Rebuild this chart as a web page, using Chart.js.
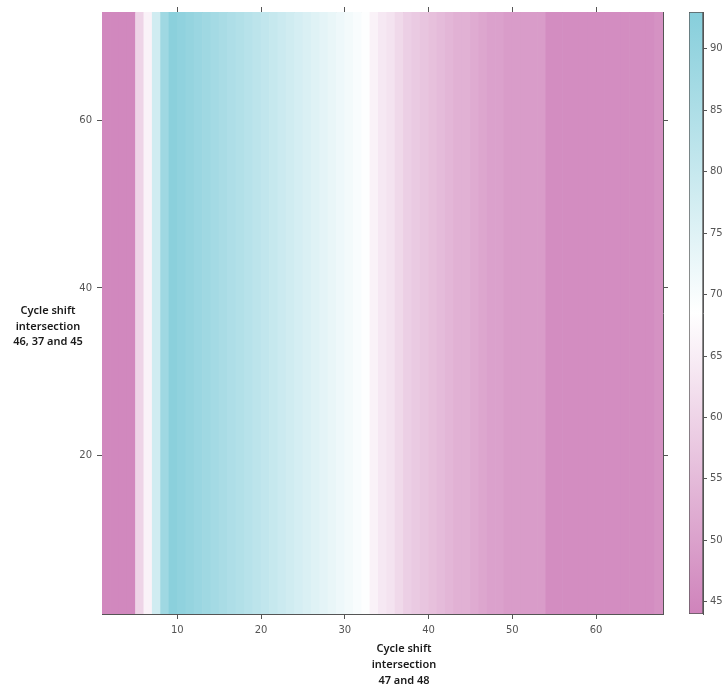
<!DOCTYPE html>
<html>
<head>
<meta charset="utf-8">
<title>Cycle shift intersections</title>
<script src="https://cdn.jsdelivr.net/npm/chart.js@4.4.1/dist/chart.umd.min.js"></script>
<style>
  body { margin: 0; background: #fff; }
  #wrap { position: relative; width: 727px; height: 690px; font-family: 'Noto Sans', sans-serif; }
  canvas { position: absolute; top: 0; }
  #heat { left: 0; }
  #key { left: 670px; }
  .axis-title { position: absolute; text-align: center; font-size: 11px; font-weight: 600; color: #1a1a1a; }
</style>
</head>
<body>
<div id="wrap">
  <canvas id="heat" width="727" height="690"></canvas>
  <canvas id="key" width="57" height="690"></canvas>
  <div class="axis-title" style="left:344px; top:640px; width:120px; line-height:16px;">Cycle shift<br>intersection<br>47 and 48</div>
  <div class="axis-title" style="left:0; top:302px; width:96px; line-height:15.5px;">Cycle shift<br>intersection<br>46, 37 and 45</div>
</div>
<script>
// cycle shift at intersection 47/48 (column centres)
const xCells = [
  1.5, 2.5, 3.5, 4.5, 5.5, 6.5, 7.5, 8.5, 9.5, 10.5,
  11.5, 12.5, 13.5, 14.5, 15.5, 16.5, 17.5, 18.5, 19.5, 20.5,
  21.5, 22.5, 23.5, 24.5, 25.5, 26.5, 27.5, 28.5, 29.5, 30.5,
  31.5, 32.5, 33.5, 34.5, 35.5, 36.5, 37.5, 38.5, 39.5, 40.5,
  41.5, 42.5, 43.5, 44.5, 45.5, 46.5, 47.5, 48.5, 49.5, 50.5,
  51.5, 52.5, 53.5, 54.5, 55.5, 56.5, 57.5, 58.5, 59.5, 60.5,
  61.5, 62.5, 63.5, 64.5, 65.5, 66.5, 67.5
];
// value per column (same for every shift of 46/37/45)
const heatValues = [
  45, 45, 45, 45, 60, 66, 78, 88, 92, 91,
  90, 89, 88, 87, 86, 85, 84, 83, 82, 81,
  80, 79, 78, 77, 76, 75, 74, 73, 72, 71,
  70, 69, 66, 64, 63, 61, 59, 58, 57, 56,
  55, 54, 53, 53, 52, 51, 50, 50, 49, 49,
  49, 49, 49, 46, 46, 46, 46, 46, 46, 46,
  46, 46, 46, 46, 46, 46, 47
];
// rows of intersection 46, 37 and 45 span this range
const yLimits = [1, 73];
const xLimits = [1, 68];

const xTicks = [10, 20, 30, 40, 50, 60];
const yTicks = [20, 40, 60];

// colour key
const keyRange = [44, 93];
const keyTicks = [45, 50, 55, 60, 65, 70, 75, 80, 85, 90];
const keyStops = [44, 68.5, 93];
const keyColors = [[207, 131, 187], [255, 255, 255], [134, 206, 219]];

function colorFor(v) {
  let i = 0;
  while (i < keyStops.length - 2 && v > keyStops[i + 1]) i++;
  const t = Math.max(0, Math.min(1, (v - keyStops[i]) / (keyStops[i + 1] - keyStops[i])));
  const a = keyColors[i], b = keyColors[i + 1];
  const c = a.map((x, k) => Math.round(x + (b[k] - x) * t));
  return `rgb(${c[0]},${c[1]},${c[2]})`;
}

const axisColor = '#555';
const tickFont = { family: 'DejaVu Sans', size: 10 };

function fixedTicks(list) {
  return scale => { scale.ticks = list.map(v => ({ value: v })); };
}

function edgeAxis(position, limits, ticks, size, labels) {
  const horizontal = position === 'top' || position === 'bottom';
  return {
    type: 'linear',
    position,
    min: limits[0],
    max: limits[1],
    offset: false,
    afterBuildTicks: fixedTicks(ticks),
    afterFit: s => { if (horizontal) s.height = size; else s.width = size; },
    grid: { offset: false, drawOnChartArea: false, drawTicks: true, tickLength: 5, color: axisColor },
    border: { display: true, color: axisColor, width: 1 },
    ticks: { display: labels, font: tickFont, color: '#555', padding: 5, maxRotation: 0, autoSkip: false }
  };
}

new Chart(document.getElementById('heat'), {
  type: 'bar',
  data: {
    datasets: [{
      data: heatValues.map((v, i) => ({ x: xCells[i], y: yLimits })),
      backgroundColor: heatValues.map(colorFor),
      borderWidth: 0,
      barPercentage: 1,
      categoryPercentage: 1,
      xAxisID: 'x',
      yAxisID: 'y'
    }]
  },
  options: {
    responsive: false,
    animation: false,
    layout: { padding: { top: 7, right: 59, bottom: 0, left: 0 } },
    plugins: { legend: { display: false }, tooltip: { enabled: false } },
    scales: {
      x: edgeAxis('bottom', xLimits, xTicks, 76, true),
      x2: edgeAxis('top', xLimits, xTicks, 5, false),
      y: edgeAxis('left', yLimits, yTicks, 102, true),
      y2: edgeAxis('right', yLimits, yTicks, 5, false)
    }
  }
});

new Chart(document.getElementById('key'), {
  type: 'bar',
  data: {
    labels: ['key'],
    datasets: [{
      data: [keyRange],
      backgroundColor: c => {
        const chart = c.chart;
        if (!chart.chartArea) return null;
        const y = chart.scales.y;
        const g = chart.ctx.createLinearGradient(0, y.getPixelForValue(keyRange[0]), 0, y.getPixelForValue(keyRange[1]));
        keyStops.forEach((v, i) => {
          const t = (v - keyRange[0]) / (keyRange[1] - keyRange[0]);
          g.addColorStop(t, `rgb(${keyColors[i].join(',')})`);
        });
        return g;
      },
      borderColor: axisColor,
      borderWidth: 1,
      borderSkipped: false,
      barPercentage: 1,
      categoryPercentage: 1
    }]
  },
  options: {
    responsive: false,
    animation: false,
    layout: { padding: { top: 12, right: 0, bottom: 76, left: 19 } },
    plugins: { legend: { display: false }, tooltip: { enabled: false } },
    scales: {
      x: { display: false },
      y: {
        position: 'right',
        min: keyRange[0],
        max: keyRange[1],
        afterBuildTicks: fixedTicks(keyTicks),
        afterFit: s => { s.width = 24; },
        grid: { drawOnChartArea: false, tickLength: 4, color: axisColor },
        border: { color: axisColor },
        ticks: { font: tickFont, color: '#555', padding: 3 }
      }
    }
  }
});
</script>
</body>
</html>
